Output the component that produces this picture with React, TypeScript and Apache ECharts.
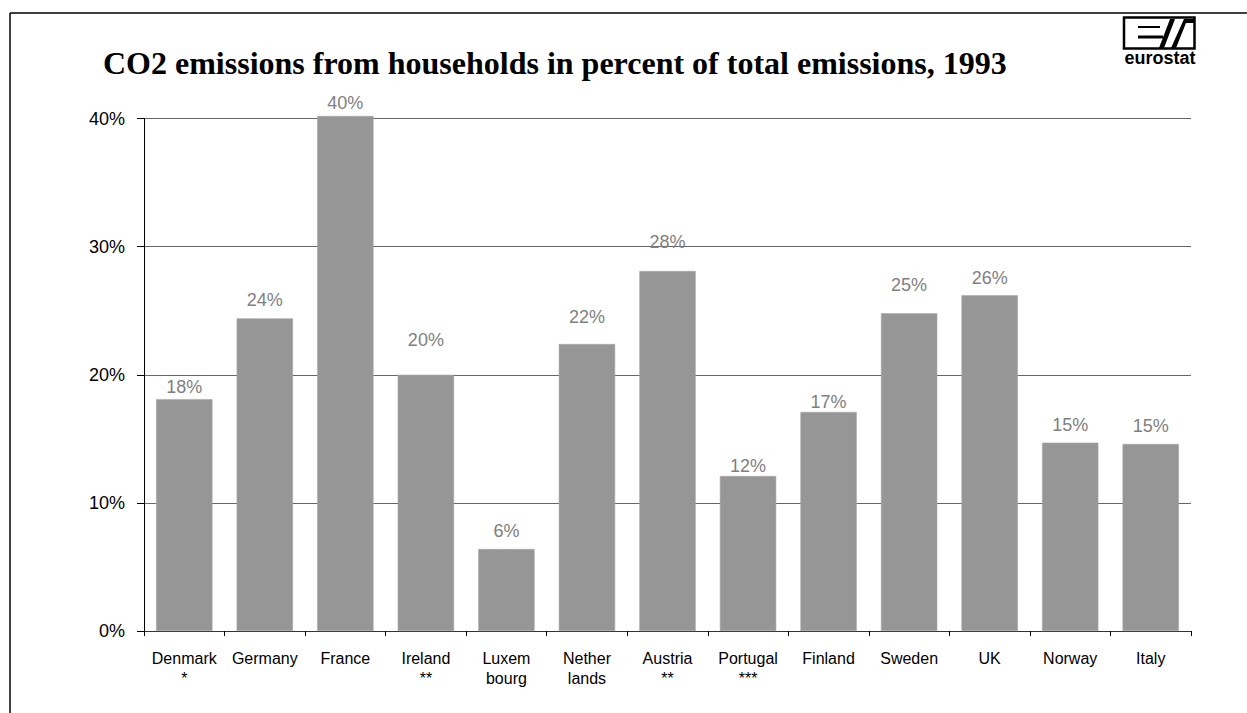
import React, { useEffect, useRef } from "react";
import * as echarts from "echarts";

const categories = [
  "Denmark\n*",
  "Germany",
  "France",
  "Ireland\n**",
  "Luxem\nbourg",
  "Nether\nlands",
  "Austria\n**",
  "Portugal\n***",
  "Finland",
  "Sweden",
  "UK",
  "Norway",
  "Italy",
];

const values = [18.1, 24.4, 40.2, 20.0, 6.4, 22.4, 28.1, 12.1, 17.1, 24.8, 26.2, 14.7, 14.6];

// distance of each value label above its bar (as in the original, labels were placed by hand)
const labelGaps = [3, 9, 4, 26, 9, 18, 20, 1, 1, 19, 8, 9, 9];

const yTicks = [0, 10, 20, 30, 40];

const titleText = "CO2 emissions from households in percent of total emissions, 1993";

export default function App() {
  const ref = useRef<HTMLDivElement>(null);

  useEffect(() => {
    if (!ref.current) return;
    const chart = echarts.init(ref.current, undefined, { renderer: "svg" });

    const option: any = {
      animation: false,
      backgroundColor: "#ffffff",
      title: {
        text: titleText,
        left: 98,
        top: 42,
        textStyle: {
          fontFamily: "Liberation Serif",
          fontWeight: "bold",
          fontSize: 32,
          color: "#000",
        },
      },
      grid: { left: 144, right: 56, top: 118.5, bottom: 82 },
      xAxis: {
        type: "category",
        data: categories,
        boundaryGap: true,
        axisLine: { show: true, lineStyle: { color: "#333", width: 1 } },
        axisTick: { show: true, length: 5, alignWithLabel: false, lineStyle: { color: "#000" } },
        axisLabel: {
          interval: 0,
          margin: 17,
          fontSize: 16,
          lineHeight: 20,
          color: "#000",
          fontFamily: "Liberation Sans",
        },
      },
      yAxis: {
        type: "value",
        min: yTicks[0],
        max: yTicks[yTicks.length - 1],
        interval: 10,
        axisLine: { show: true, lineStyle: { color: "#000", width: 1 } },
        axisTick: { show: true, length: 7, lineStyle: { color: "#000" } },
        axisLabel: {
          formatter: "{value}%",
          margin: 19,
          fontSize: 18,
          color: "#000",
          fontFamily: "Liberation Sans",
        },
        splitLine: { show: true, lineStyle: { color: "#666", width: 1 } },
      },
      series: [
        {
          type: "bar",
          clip: false,
          barCategoryGap: "30%",
          data: values.map((v, i) => ({
            value: v,
            label: { distance: labelGaps[i] },
          })),
          itemStyle: { color: "#969696", borderColor: "#a8a8a8", borderWidth: 0.6 },
          label: {
            show: true,
            position: "top",
            fontSize: 18,
            color: "#808080",
            fontFamily: "Liberation Sans",
            formatter: (p: any) => Math.round(p.value) + "%",
          },
        },
      ],
      graphic: [
        { type: "line", shape: { x1: 10, y1: 13, x2: 1247, y2: 13 }, style: { stroke: "#000", lineWidth: 1.5 } },
        { type: "line", shape: { x1: 10, y1: 13, x2: 10, y2: 713 }, style: { stroke: "#000", lineWidth: 1.5 } },
        // eurostat logo
        { type: "rect", shape: { x: 1124, y: 17.5, width: 70.5, height: 31 }, style: { fill: "none", stroke: "#000", lineWidth: 2.5 } },
        { type: "line", shape: { x1: 1138, y1: 27, x2: 1160, y2: 27 }, style: { stroke: "#000", lineWidth: 2 } },
        { type: "line", shape: { x1: 1138, y1: 37, x2: 1163, y2: 37 }, style: { stroke: "#000", lineWidth: 3 } },
        { type: "polygon", shape: { points: [[1159, 48], [1164, 48], [1175, 19], [1170, 19]] }, style: { fill: "#000" } },
        { type: "polygon", shape: { points: [[1171, 48], [1176, 48], [1186, 23], [1195, 23], [1195, 19], [1184, 19]] }, style: { fill: "#000" } },
        {
          type: "text",
          x: 1160,
          y: 58,
          style: {
            text: "eurostat",
            fill: "#000",
            fontSize: 18,
            fontWeight: "bold",
            fontFamily: "Liberation Sans",
            align: "center",
            verticalAlign: "middle",
          },
        },
      ],
    };

    chart.setOption(option);
    return () => chart.dispose();
  }, []);

  return (
    <div
      ref={ref}
      style={{ position: "fixed", left: 0, top: 0, width: 1247, height: 713 }}
    />
  );
}
